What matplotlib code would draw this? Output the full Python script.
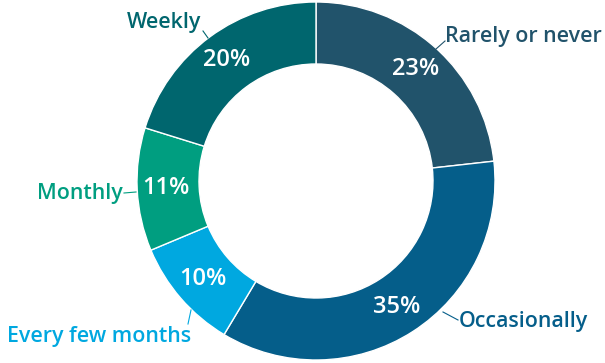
import matplotlib.pyplot as plt
import numpy as np

plt.rcParams['font.family'] = ['Open Sans', 'DejaVu Sans']

# survey answers, clockwise from 12 o'clock
categories = ['Rarely or never', 'Occasionally', 'Every few months', 'Monthly', 'Weekly']
shares = [23, 35, 10, 11, 20]
colors = ['#21536b', '#055e8a', '#00a8e0', '#009e80', '#00666e']

# label placement in pixel coords: leader start, leader end, text anchor (baseline), alignment
leaders = [
    ((436, 49), (445, 41), (445, 42), 'left'),
    ((443, 312), (458, 320), (459, 327), 'left'),
    ((191, 310), (188, 324), (191, 342), 'right'),
    ((136, 192), (124, 193), (123, 199), 'right'),
    ((208, 38), (203, 31), (201, 28), 'right'),
]

fig = plt.figure(figsize=(6.05, 3.63), dpi=100)
ax = fig.add_axes([0, 0, 1, 1])

cx, cy, r = 316, -181, 179
width = 62
wedges, _ = ax.pie(shares, colors=colors, startangle=90, counterclock=False,
                   center=(cx, cy), radius=r,
                   wedgeprops=dict(width=width, edgecolor='white', linewidth=1))

# pie resets the limits, so set them afterwards
ax.set_xlim(0, 605)
ax.set_ylim(-363, 0)
ax.set_aspect('equal')
ax.axis('off')

# percentage labels inside the ring
for w, v in zip(wedges, shares):
    ang = np.deg2rad((w.theta1 + w.theta2) / 2)
    rr = r - width / 2 + 2
    ax.text(cx + rr * np.cos(ang), cy + rr * np.sin(ang), f'{v}%',
            color='white', fontsize=17, fontweight='semibold',
            ha='center', va='center')

# outside category labels with short leader lines
for name, col, (p0, p1, pt, ha) in zip(categories, colors, leaders):
    ax.plot([p0[0], p1[0]], [-p0[1], -p1[1]], color=col, lw=0.8)
    ax.text(pt[0], -pt[1], name, color=col, fontsize=15.4,
            fontweight='semibold', ha=ha, va='baseline')

fig.savefig('out.png', dpi=100)
